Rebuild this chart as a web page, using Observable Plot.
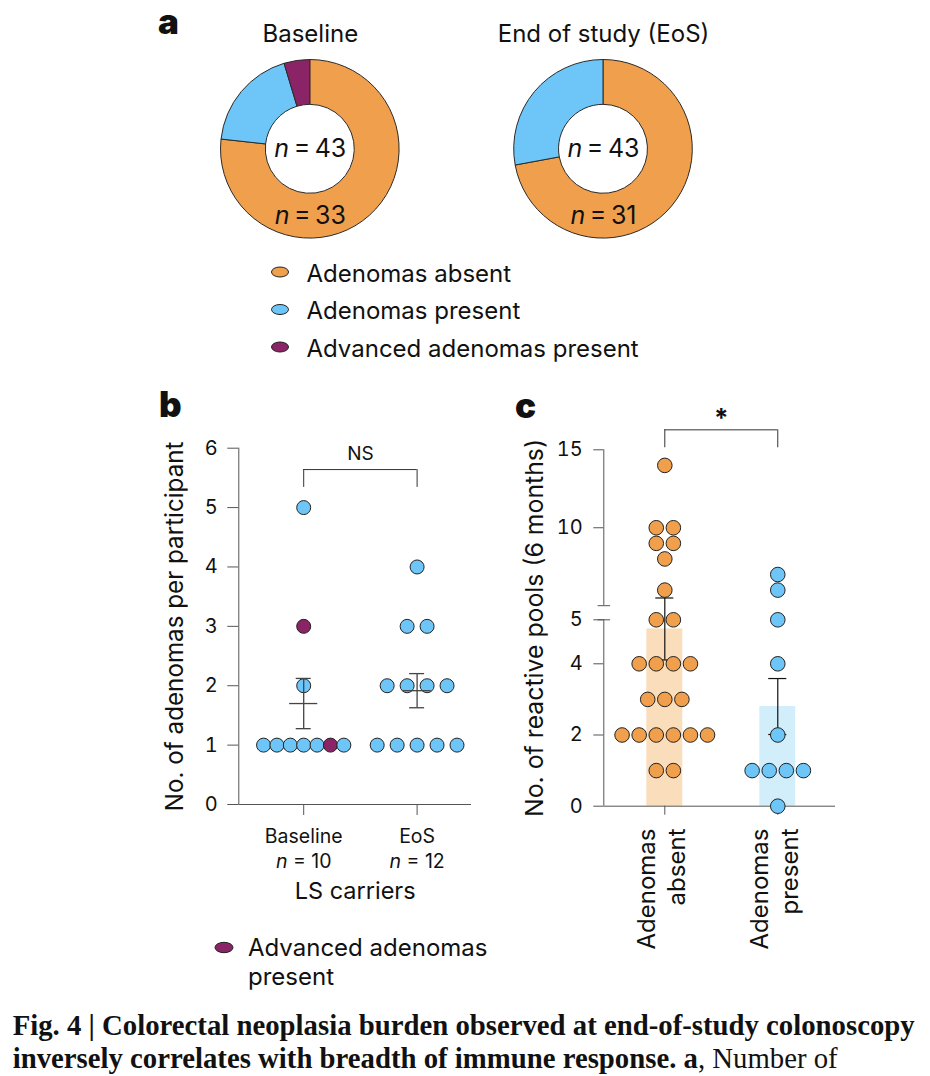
<!DOCTYPE html>
<html><head><meta charset="utf-8">
<script src="https://cdn.jsdelivr.net/npm/d3@7"></script>
<script src="https://cdn.jsdelivr.net/npm/@observablehq/plot@0.6"></script>
<style>
body{margin:0;background:#fff;}
#root{position:relative;width:930px;height:1076px;overflow:hidden;font-family:Inter,"DejaVu Sans",sans-serif;color:#111;background:#fff;}
#root > svg{position:absolute;}
</style></head><body><div id="root"></div>
<script>
// ---------- data ----------
const pieGroups = ["Baseline", "End of study (EoS)"];
const pieTotals = [43, 43];
const pieAbsent = [33, 31];
const piePresent = [8, 12];
const pieAdvanced = [2, 0];
const statusLabels = ["Adenomas absent", "Adenomas present", "Advanced adenomas present"];
const statusColors = ["#F0A04C", "#6EC6F8", "#8B2467"];
const barColors = ["#FADDBB", "#D3EEFB"];

const bGroups = ["Baseline", "EoS"];
const bGroupN = [10, 12];
const bBaselineValues = [1, 1, 1, 1, 1, 1, 1, 2, 3, 5];
const bBaselineAdvanced = [0, 0, 0, 0, 0, 1, 0, 0, 1, 0];
const bEoSValues = [1, 1, 1, 1, 1, 2, 2, 2, 2, 3, 3, 4];
const bEoSAdvanced = [0, 0, 0, 0, 0, 0, 0, 0, 0, 0, 0, 0];
const bYTicks = [0, 1, 2, 3, 4, 5, 6];
const bXTitle = "LS carriers";
const bYTitle = "No. of adenomas per participant";
const bSignif = "NS";

const cGroupsLine1 = ["Adenomas", "Adenomas"];
const cGroupsLine2 = ["absent", "present"];
const cAbsentValues = [1, 1, 2, 2, 2, 2, 2, 2, 3, 3, 3, 4, 4, 4, 4, 5, 5, 6, 8, 9, 9, 10, 10, 14];
const cPresentValues = [0, 1, 1, 1, 1, 2, 4, 5, 6, 7];
const cYTicks = [0, 2, 4, 5, 10, 15];
const cYTitle = "No. of reactive pools (6 months)";
const cSignif = "*";

// ---------- helpers ----------
const root = document.getElementById("root");
const NS = "http://www.w3.org/2000/svg";
function place(svg, left, top) {
  svg.style.left = left + "px"; svg.style.top = top + "px";
  italicizeN(svg);
  root.appendChild(svg);
}
function italicizeN(el0) {
  el0.querySelectorAll("text, tspan").forEach(el => {
    if (el.children.length) return;
    const m = /^n([ \u2009]=[ \u2009].+)$/.exec(el.textContent);
    if (!m) return;
    el.textContent = "";
    const t = document.createElementNS(NS, "tspan");
    t.setAttribute("font-style", "italic"); t.textContent = "n";
    el.appendChild(t);
    el.appendChild(document.createTextNode(m[1]));
  });
}
// rows of equal values laid side by side around the group centre
function swarm(values, g, step, extra) {
  const counts = d3.rollup(values, v => v.length, d => d);
  const seen = new Map();
  return values.map((v, i) => {
    const k = counts.get(v), j = seen.get(v) ?? 0; seen.set(v, j + 1);
    return {group: g, value: v, x: g + (j - (k - 1) / 2) * step, ...extra(i)};
  });
}
const stats = (v, i) => ({i, mean: d3.mean(v), sem: d3.deviation(v) / Math.sqrt(v.length)});
const baseStyle = {fontFamily: "Inter, sans-serif", fontSize: "20px", color: "#111", background: "transparent", overflow: "visible"};

// ---------- panel a ----------
const pieData = pieGroups.map((g, i) => ({group: g, i, total: pieTotals[i], absent: pieAbsent[i],
  slices: [pieAbsent[i], piePresent[i], pieAdvanced[i]]}));
const rInnerFrac = 0.498;
const panelA = Plot.plot({
  width: 930, height: 250, margin: 0,
  x: {domain: [0, 1], range: [309.8, 603], axis: null},
  y: {domain: [-1, 1], range: [238.1, 59.5], axis: null},
  style: baseStyle,
  marks: [
    (index, scales) => {
      const g = d3.create("svg:g");
      for (const p of pieData) {
        const cx = scales.x(p.i), cy = scales.y(0);
        const r = scales.y(-1) - scales.y(0);
        const arcs = d3.pie().sort(null)(p.slices).filter(a => a.data > 0);
        g.append("g").attr("transform", `translate(${cx},${cy})`)
          .selectAll("path").data(arcs).join("path")
          .attr("d", d3.arc().innerRadius(r * rInnerFrac).outerRadius(r))
          .attr("fill", a => statusColors[a.index])
          .attr("stroke", "#2a2a2a").attr("stroke-width", 1);
      }
      return g.node();
    },
    Plot.text(pieData, {x: "i", y: 1.293, text: "group", fontSize: 24}),
    Plot.text(pieData, {x: "i", y: 0, text: d => `n\u2009=\u2009${d.total}`, fontSize: 25}),
    Plot.text(pieData, {x: "i", y: -0.752, text: d => `n\u2009=\u2009${d.absent}`, fontSize: 25})
  ]
});
place(panelA, 0, 0);

// ---------- panel b ----------
const bDots = [
  ...swarm(bBaselineValues, 0, 0.118, i => ({adv: bBaselineAdvanced[i]})),
  ...swarm(bEoSValues, 1, 0.176, i => ({adv: bEoSAdvanced[i]}))
];
const bStats = [bBaselineValues, bEoSValues].map(stats);
const bXDomain = [-0.5723, 1.4797];
const bCats = bGroups.map((g, i) => ({i, name: g, n: bGroupN[i]}));
const bBracket = {y: 5.64, leg: 5.34, label: 5.91};
const panelB = Plot.plot({
  width: 340, height: 500, marginLeft: 88.3, marginRight: 19, marginTop: 27.7, marginBottom: 116,
  x: {domain: bXDomain}, y: {domain: [0, 6]}, color: {type: "identity"},
  style: baseStyle,
  marks: [
    Plot.ruleY([0], {stroke: "#555"}),
    Plot.ruleX([bXDomain[0]], {y1: 0, y2: 6, stroke: "#555"}),
    Plot.axisY({ticks: bYTicks, tickFormat: d3.format("d"), tickSize: 11, tickPadding: 10, label: null, stroke: "#555", fontSize: 20}),
    Plot.axisX({ticks: [0, 1], tickSize: 11, tickFormat: () => "", label: null, stroke: "#555"}),
    Plot.dot(bDots, {x: "x", y: "value", r: 7, fill: d => statusColors[d.adv ? 2 : 1], stroke: "#222", strokeWidth: 1}),
    Plot.ruleY(bStats, {y: "mean", x1: d => d.i - 0.124, x2: d => d.i + 0.124, stroke: "#444", strokeWidth: 1.3}),
    Plot.ruleX(bStats, {x: "i", y1: d => d.mean - d.sem, y2: d => d.mean + d.sem, stroke: "#444", strokeWidth: 1.3}),
    Plot.ruleY(bStats, {y: d => d.mean + d.sem, x1: d => d.i - 0.066, x2: d => d.i + 0.066, stroke: "#444", strokeWidth: 1.3}),
    Plot.ruleY(bStats, {y: d => d.mean - d.sem, x1: d => d.i - 0.066, x2: d => d.i + 0.066, stroke: "#444", strokeWidth: 1.3}),
    Plot.ruleY([bBracket], {y: "y", x1: 0, x2: 1, stroke: "#333"}),
    Plot.ruleX([0, 1], {x: d => d, y1: bBracket.leg, y2: bBracket.y, stroke: "#333"}),
    Plot.text([bSignif], {x: 0.5, y: bBracket.label, text: d => d, fontSize: 19}),
    Plot.text(bCats, {x: "i", y: 0, dy: 32.7, text: "name", fontSize: 19.5}),
    Plot.text(bCats, {x: "i", y: 0, dy: 57.7, text: d => `n = ${d.n}`, fontSize: 19.5}),
    Plot.text([bXTitle], {frameAnchor: "bottom", dy: 94, text: d => d, fontSize: 23.5}),
    Plot.text([bYTitle], {frameAnchor: "left", textAnchor: "middle", rotate: -90, dx: -63.3, text: d => d, fontSize: 24.2})
  ]
});
place(panelB, 150, 420);

// ---------- panel c ----------
const cDots = [
  ...swarm(cAbsentValues, 0, 0.1513, () => ({})),
  ...swarm(cPresentValues, 1, 0.1513, () => ({}))
];
const cStats = [cAbsentValues, cPresentValues].map(stats);
const cXDomain = [-0.540, 1.511];
const cCats = cGroupsLine1.map((g, i) => ({i, l1: g, l2: cGroupsLine2[i]}));
const cBracket = {y: 16.28, leg: 15.13, label: 17.0};
const cBreak = [5, 5.001];
const panelC = Plot.plot({
  width: 350, height: 580, marginLeft: 103.3, marginRight: 15, marginTop: 69.3, marginBottom: 154.3,
  x: {domain: cXDomain},
  y: {type: "linear", domain: [0, 4, 5, 5.001, 15], range: [425.7, 283.3, 239.3, 225.2, 69.3]},
  color: {type: "identity"},
  style: baseStyle,
  marks: [
    Plot.rect(cStats, {x1: d => d.i - 0.159, x2: d => d.i + 0.159, y1: 0, y2: "mean", fill: d => barColors[d.i]}),
    Plot.ruleY([0], {stroke: "#555"}),
    Plot.ruleX([{y1: 0, y2: cBreak[0]}, {y1: cBreak[1], y2: 15}], {x: cXDomain[0], y1: "y1", y2: "y2", stroke: "#555"}),
    Plot.ruleY(cBreak, {y: d => d, x1: cXDomain[0] - 0.05, x2: cXDomain[0] + 0.06, stroke: "#555"}),
    Plot.axisY({ticks: cYTicks, tickFormat: d3.format("d"), tickSize: 10, tickPadding: 11, label: null, stroke: "#555", fontSize: 20}),
    Plot.axisX({ticks: [0, 1], tickSize: 9, tickFormat: () => "", label: null, stroke: "#555"}),
    Plot.ruleX(cStats, {x: "i", y1: d => d.mean - d.sem, y2: d => d.mean + d.sem, stroke: "#111", strokeWidth: 1.2}),
    Plot.ruleY(cStats, {y: d => d.mean + d.sem, x1: d => d.i - 0.08, x2: d => d.i + 0.08, stroke: "#111", strokeWidth: 1.2}),
    Plot.ruleY(cStats, {y: d => d.mean - d.sem, x1: d => d.i - 0.08, x2: d => d.i + 0.08, stroke: "#111", strokeWidth: 1.2}),
    Plot.dot(cDots, {x: "x", y: "value", r: 7.3, fill: d => statusColors[d.group], stroke: "#222", strokeWidth: 1}),
    Plot.ruleY([cBracket], {y: "y", x1: 0, x2: 1, stroke: "#333"}),
    Plot.ruleX([0, 1], {x: d => d, y1: cBracket.leg, y2: cBracket.y, stroke: "#333"}),
    Plot.text([cSignif], {x: 0.5, y: cBracket.label, text: d => d, fontSize: 26, fontWeight: "bold"}),
    Plot.text(cCats, {x: "i", y: 0, dy: 22.3, dx: -17.6, rotate: -90, textAnchor: "end", text: "l1", fontSize: 24}),
    Plot.text(cCats, {x: "i", y: 0, dy: 22.3, dx: 13, rotate: -90, textAnchor: "end", text: "l2", fontSize: 24}),
    Plot.text([cYTitle], {frameAnchor: "left", textAnchor: "middle", rotate: -90, dx: -68.3, text: d => d, fontSize: 24.8})
  ]
});
place(panelC, 500, 380);

// ---------- overlay: panel letters, legends, caption ----------
const ov = d3.create("svg").attr("width", 930).attr("height", 1076)
  .style("position", "absolute").style("left", "0px").style("top", "0px")
  .attr("font-family", "Inter, sans-serif").attr("fill", "#111");
[["a", 158, 34], ["b", 159, 417], ["c", 515, 418]].forEach(([t, x, y]) =>
  ov.append("text").attr("x", x).attr("y", y).attr("font-size", 35).attr("font-weight", 900).text(t));
const legA = [281.5, 319, 356.5];
statusLabels.forEach((lab, i) => {
  ov.append("ellipse").attr("cx", 280).attr("cy", legA[i] - 9.5).attr("rx", 8.5).attr("ry", 5)
    .attr("fill", statusColors[i]).attr("stroke", "#222").attr("stroke-width", 1);
  ov.append("text").attr("x", 306.5).attr("y", legA[i]).attr("font-size", 24).text(lab);
});
ov.append("ellipse").attr("cx", 224).attr("cy", 947.5).attr("rx", 9).attr("ry", 5.2)
  .attr("fill", statusColors[2]).attr("stroke", "#222").attr("stroke-width", 1);
ov.append("text").attr("x", 248).attr("y", 956).attr("font-size", 24).text("Advanced adenomas");
ov.append("text").attr("x", 248).attr("y", 985).attr("font-size", 24).text("present");
const cap1 = ov.append("text").attr("x", 12.7).attr("y", 1035).attr("font-family", "'Liberation Serif', serif")
  .attr("font-size", 29).attr("font-weight", "bold").attr("textLength", 902).attr("lengthAdjust", "spacingAndGlyphs")
  .text("Fig. 4 | Colorectal neoplasia burden observed at end-of-study colonoscopy");
const cap2 = ov.append("text").attr("x", 12.7).attr("y", 1068).attr("font-family", "'Liberation Serif', serif")
  .attr("font-size", 29).attr("textLength", 825).attr("lengthAdjust", "spacingAndGlyphs");
cap2.append("tspan").attr("font-weight", "bold").text("inversely correlates with breadth of immune response. a");
cap2.append("tspan").text(", Number of");
root.appendChild(ov.node());
</script></body></html>
